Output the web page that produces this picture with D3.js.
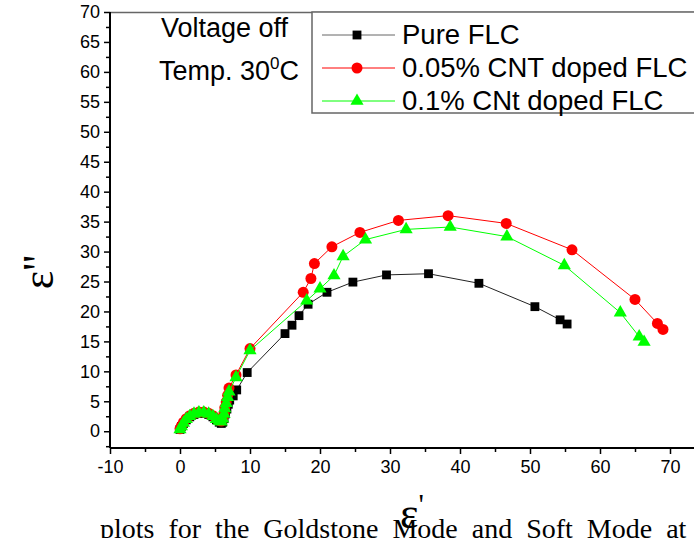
<!DOCTYPE html>
<html>
<head>
<meta charset="utf-8">
<script src="https://cdn.jsdelivr.net/npm/d3@7"></script>
<style>
  body { margin: 0; background: #fff; }
  svg { display: block; }
</style>
</head>
<body>
<script>
/* globals d3 */

// epsilon' (x) and epsilon'' (y) for each sample
var pureX = [0.0, 0.2, 0.5, 0.9, 1.4, 2.0, 2.7, 3.4, 4.1, 4.7, 5.2, 5.6, 5.9, 6.1, 6.3, 6.5, 6.7, 6.9, 7.1, 7.6, 8.1, 9.6, 15.0, 16.0, 17.0, 18.3, 21.0, 24.7, 29.5, 35.5, 42.7, 50.7, 54.3, 55.3];
var pureY = [0.3, 0.8, 1.3, 1.9, 2.4, 2.8, 3.0, 3.0, 2.8, 2.4, 1.9, 1.5, 1.3, 1.5, 2.1, 2.9, 3.7, 4.5, 5.2, 5.9, 6.9, 9.8, 16.3, 17.7, 19.3, 21.2, 23.2, 24.9, 26.1, 26.3, 24.7, 20.8, 18.6, 17.9];

var cnt005X = [0.0, 0.2, 0.5, 0.9, 1.4, 2.0, 2.7, 3.4, 4.1, 4.7, 5.2, 5.6, 5.9, 6.1, 6.3, 6.4, 6.6, 6.8, 7.0, 8.0, 10.0, 17.6, 18.7, 19.2, 21.7, 25.7, 31.2, 38.3, 46.6, 56.0, 65.0, 68.2, 69.0];
var cnt005Y = [0.4, 0.9, 1.5, 2.1, 2.6, 3.0, 3.2, 3.2, 3.0, 2.6, 2.1, 1.8, 1.7, 2.2, 3.0, 3.9, 4.9, 6.0, 7.2, 9.4, 13.8, 23.2, 25.5, 28.0, 30.8, 33.2, 35.2, 36.0, 34.7, 30.3, 22.0, 18.0, 17.0];

var cnt01X = [0.0, 0.2, 0.5, 0.9, 1.4, 2.0, 2.7, 3.4, 4.1, 4.7, 5.2, 5.6, 5.9, 6.1, 6.3, 6.4, 6.6, 6.8, 7.0, 8.0, 10.0, 18.1, 20.0, 22.0, 23.3, 26.5, 32.3, 38.6, 46.7, 54.9, 62.9, 65.6, 66.3];
var cnt01Y = [0.3, 0.8, 1.4, 2.0, 2.5, 2.9, 3.1, 3.1, 2.9, 2.5, 2.0, 1.7, 1.6, 2.1, 2.9, 3.8, 4.7, 5.7, 6.6, 9.0, 13.5, 21.8, 23.8, 26.0, 29.2, 32.0, 33.7, 34.1, 32.5, 27.7, 19.8, 15.8, 14.9];

var seriesNames = ["Pure FLC", "0.05% CNT doped FLC", "0.1% CNt doped FLC"];
var xTicks = [-10, 0, 10, 20, 30, 40, 50, 60, 70];
var xMinor = [-5, 5, 15, 25, 35, 45, 55, 65, 75];
var yTicks = [0, 5, 10, 15, 20, 25, 30, 35, 40, 45, 50, 55, 60, 65, 70];
var yMinor = [-2.5, 2.5, 7.5, 12.5, 17.5, 22.5, 27.5, 32.5, 37.5, 42.5, 47.5, 52.5, 57.5, 62.5, 67.5];

var W = 694, H = 538;
var plot = {left: 110, top: 12, right: 705, bottom: 448};
var sans = "'Liberation Sans', Arial, sans-serif";
var serif = "'Liberation Serif', 'Times New Roman', serif";

var x = d3.scaleLinear().domain([-10, 75]).range([plot.left, plot.right]);
var y = d3.scaleLinear().domain([-2.8, 70]).range([plot.bottom, plot.top]);

var svg = d3.select("body").append("svg")
  .attr("width", W)
  .attr("height", H);

function zip(xs, ys) {
  return xs.map(function(v, i) { return {x: v, y: ys[i]}; });
}

var series = [
  {name: seriesNames[0], data: zip(pureX, pureY), line: "#222", fill: "#000", sym: d3.symbolSquare, size: 78},
  {name: seriesNames[1], data: zip(cnt005X, cnt005Y), line: "#ff0000", fill: "#ff0000", sym: d3.symbolCircle, size: 95},
  {name: seriesNames[2], data: zip(cnt01X, cnt01Y), line: "#00ff00", fill: "#00ff00", sym: d3.symbolTriangle, size: 75}
];

// top frame line
svg.append("line")
  .attr("x1", plot.left).attr("x2", W)
  .attr("y1", plot.top + 0.5).attr("y2", plot.top + 0.5)
  .attr("stroke", "#666").attr("stroke-width", 1.5);

// axes (plain hyphen for negatives, like the original)
var plain = function(d) { return String(d); };
var xAxis = d3.axisBottom(x).tickValues(xTicks).tickSize(6).tickPadding(6).tickFormat(plain);
var xAxisMinor = d3.axisBottom(x).tickValues(xMinor).tickSize(4).tickFormat("");
var yAxis = d3.axisLeft(y).tickValues(yTicks).tickSize(6).tickPadding(4).tickFormat(plain);
var yAxisMinor = d3.axisLeft(y).tickValues(yMinor).tickSize(4).tickFormat("");

function styleAxis(g, fs) {
  g.select(".domain").remove();
  g.selectAll("line").attr("stroke", "#000").attr("stroke-width", 1.5);
  g.selectAll("text").attr("fill", "#000").style("font-family", sans).style("font-size", fs);
}

svg.append("g")
  .attr("transform", "translate(0," + plot.bottom + ")")
  .call(xAxis).call(styleAxis, "18px");
svg.append("g")
  .attr("transform", "translate(0," + plot.bottom + ")")
  .call(xAxisMinor).call(styleAxis, "18px");
svg.append("g")
  .attr("transform", "translate(" + plot.left + ",0)")
  .call(yAxis).call(styleAxis, "18px");
svg.append("g")
  .attr("transform", "translate(" + plot.left + ",0)")
  .call(yAxisMinor).call(styleAxis, "18px");

svg.append("line")
  .attr("x1", plot.left).attr("x2", W)
  .attr("y1", plot.bottom).attr("y2", plot.bottom)
  .attr("stroke", "#000").attr("stroke-width", 2);
svg.append("line")
  .attr("x1", plot.left).attr("x2", plot.left)
  .attr("y1", plot.top).attr("y2", plot.bottom)
  .attr("stroke", "#000").attr("stroke-width", 2);

// series
var line = d3.line()
  .x(function(d) { return x(d.x); })
  .y(function(d) { return y(d.y); });

series.forEach(function(s) {
  var g = svg.append("g");
  g.append("path")
    .datum(s.data)
    .attr("fill", "none")
    .attr("stroke", s.line)
    .attr("stroke-width", 1)
    .attr("d", line);
  g.selectAll("path.mark")
    .data(s.data)
    .enter().append("path")
    .attr("class", "mark")
    .attr("transform", function(d) { return "translate(" + x(d.x) + "," + y(d.y) + ")"; })
    .attr("d", d3.symbol().type(s.sym).size(s.size))
    .attr("fill", s.fill);
});

// annotation text
svg.append("text")
  .attr("x", 161).attr("y", 37)
  .style("font-family", sans).style("font-size", "27px")
  .text("Voltage off");
var t = svg.append("text")
  .attr("x", 159).attr("y", 80)
  .style("font-family", sans).style("font-size", "27px");
t.append("tspan").text("Temp. 30");
t.append("tspan").attr("dy", -11).style("font-size", "17px").text("0");
t.append("tspan").attr("dy", 11).text("C");

// legend
var leg = svg.append("g");
leg.append("rect")
  .attr("x", 312).attr("y", 12)
  .attr("width", 400).attr("height", 101)
  .attr("fill", "#fff")
  .attr("stroke", "#666").attr("stroke-width", 1.5);

series.forEach(function(s, i) {
  var yy = 35 + i * 33;
  leg.append("line")
    .attr("x1", 322).attr("x2", 395)
    .attr("y1", yy).attr("y2", yy)
    .attr("stroke", i === 0 ? "#666" : s.line).attr("stroke-width", 1);
  leg.append("path")
    .attr("transform", "translate(357," + yy + ")")
    .attr("d", d3.symbol().type(s.sym).size(s.size))
    .attr("fill", s.fill);
  leg.append("text")
    .attr("x", 402).attr("y", yy + 9)
    .style("font-family", sans).style("font-size", "27.5px")
    .text(s.name);
});

// axis titles
svg.append("text")
  .attr("transform", "translate(53,272) rotate(-90)")
  .attr("text-anchor", "middle")
  .style("font-family", serif).style("font-size", "44px")
  .text("ε''");

var xt = svg.append("text")
  .attr("x", 412).attr("y", 528)
  .attr("text-anchor", "middle")
  .style("font-family", serif).style("font-size", "44px");
xt.append("tspan").text("ε");
xt.append("tspan").attr("dy", -14).style("font-size", "30px").text("'");

// caption text cut off at the bottom of the picture
svg.append("text")
  .attr("x", 100).attr("y", 538)
  .style("font-family", serif).style("font-size", "28px")
  .style("word-spacing", "7px")
  .text("plots for the Goldstone Mode and Soft Mode at");
</script>
</body>
</html>
